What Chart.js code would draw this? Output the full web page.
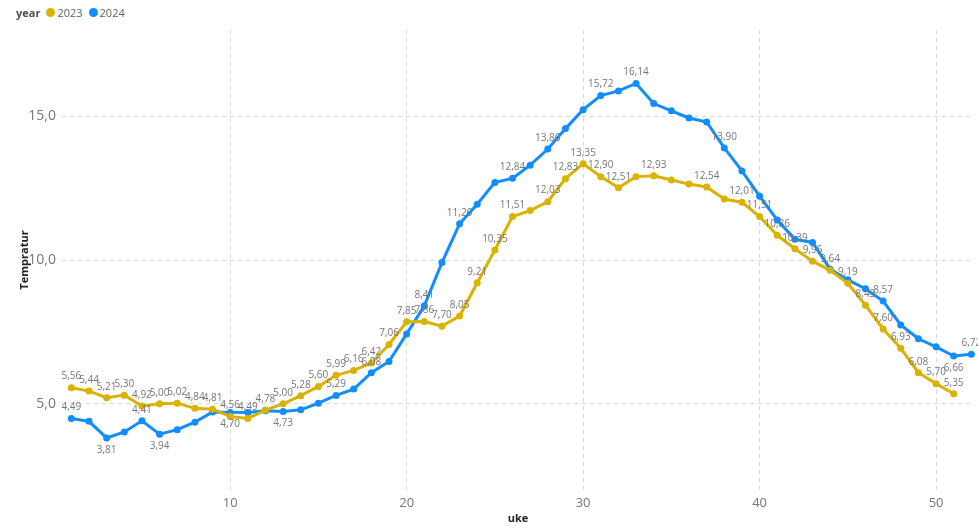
<!DOCTYPE html>
<html>
<head>
<meta charset="utf-8">
<script src="https://cdn.jsdelivr.net/npm/chart.js@4"></script>
<style>
  html, body { margin: 0; padding: 0; background: #fff; }
  #wrap { position: relative; width: 978px; height: 528px; }
  #legend {
    position: absolute; left: 16px; top: 5px;
    font-family: "Open Sans", sans-serif; font-size: 11px; color: #605e5c;
    display: flex; align-items: center;
  }
  #legend b { color: #505050; margin-right: 6px; }
  #legend .dot { width: 9px; height: 9px; border-radius: 50%; display: inline-block; margin-right: 2px; }
  #legend .item { display: flex; align-items: center; margin-right: 6px; }
</style>
</head>
<body>
<div id="wrap">
  <canvas id="temp-chart" width="978" height="528"></canvas>
  <div id="legend">
    <b>year</b>
    <span class="item"><span class="dot" style="background:#d9b300"></span>2023</span>
    <span class="item"><span class="dot" style="background:#118dff"></span>2024</span>
  </div>
</div>
<script>
// uke 1-52
const weeks = [];
for (let w = 1; w <= 52; w++) weeks.push(w);

const temp2023 = [
  5.56, 5.44, 5.21, 5.30, 4.92, 5.00, 5.02, 4.84, 4.81, 4.56,
  4.49, 4.78, 5.00, 5.28, 5.60, 5.99, 6.16, 6.42, 7.06, 7.85,
  7.86, 7.70, 8.05, 9.21, 10.35, 11.51, 11.72, 12.03, 12.83, 13.35,
  12.90, 12.51, 12.90, 12.93, 12.78, 12.64, 12.54, 12.12, 12.01, 11.51,
  10.86, 10.39, 9.96, 9.64, 9.19, 8.43, 7.60, 6.93, 6.08, 5.70, 5.35,
];

const temp2024 = [
  4.49, 4.39, 3.81, 4.02, 4.41, 3.94, 4.10, 4.36, 4.71, 4.70,
  4.70, 4.76, 4.73, 4.79, 5.02, 5.29, 5.51, 6.08, 6.47, 7.43,
  8.41, 9.91, 11.26, 11.94, 12.70, 12.84, 13.30, 13.86, 14.57, 15.23,
  15.72, 15.88, 16.14, 15.44, 15.19, 14.94, 14.80, 13.90, 13.10, 12.22,
  11.39, 10.72, 10.61, 9.68, 9.31, 9.00, 8.57, 7.74, 7.26, 6.98, 6.66, 6.72,
];

const xTicks = [10, 20, 30, 40, 50];
const yTicks = [5, 10, 15];

// which weeks get a data label (power bi hides the crowded ones)
const labelsAbove2023 = weeks.filter((w) => w <= 51 && ![27, 33, 35, 36, 38].includes(w));
const labelsAbove2024 = [1, 5, 16, 18, 21, 23, 26, 28, 31, 33, 38, 47, 52];
const labelsBelow2024 = [3, 6, 10, 13, 51];

const fmt = (v) => v.toFixed(2).replace(".", ",");

const labelPlugin = {
  id: "pointLabels",
  afterDatasetsDraw(chart) {
    const ctx = chart.ctx;
    ctx.save();
    ctx.font = "10px 'Open Sans', sans-serif";
    ctx.fillStyle = "#777";
    ctx.textAlign = "center";
    chart.data.datasets.forEach((ds, i) => {
      const meta = chart.getDatasetMeta(i);
      meta.data.forEach((pt, j) => {
        const week = ds.data[j].x;
        if (ds.above.includes(week)) {
          ctx.textBaseline = "bottom";
          ctx.fillText(fmt(ds.data[j].y), pt.x, pt.y - 6);
        } else if (ds.below.includes(week)) {
          ctx.textBaseline = "top";
          ctx.fillText(fmt(ds.data[j].y), pt.x, pt.y + 7);
        }
      });
    });
    ctx.restore();
  },
};

const toPoints = (arr) => arr.map((v, i) => ({ x: weeks[i], y: v }));

const tempData = {
  datasets: [
    {
      label: "2023",
      data: toPoints(temp2023),
      borderColor: "#d9b300",
      backgroundColor: "#d9b300",
      above: labelsAbove2023,
      below: [],
    },
    {
      label: "2024",
      data: toPoints(temp2024),
      borderColor: "#118dff",
      backgroundColor: "#118dff",
      above: labelsAbove2024,
      below: labelsBelow2024,
    },
  ],
};

const tempOptions = {
  responsive: false,
  animation: false,
  layout: { padding: { top: 30, right: 0, left: 0, bottom: 0 } },
  elements: {
    line: { borderWidth: 3, tension: 0 },
    point: { radius: 3.5, borderWidth: 0 },
  },
  datasets: { line: { clip: false } },
  plugins: {
    legend: { display: false },
    tooltip: { enabled: false },
  },
  scales: {
    x: {
      type: "linear",
      min: 0.47,
      max: 52.15,
      afterBuildTicks: (scale) => {
        scale.ticks = xTicks.map((v) => ({ value: v }));
      },
      afterFit: (scale) => {
        scale.height = 38;
      },
      grid: { color: "#d9d9d9", drawTicks: false },
      border: { display: false, dash: [4, 4] },
      ticks: {
        padding: 5,
        color: "#777",
        font: { family: "'Open Sans', sans-serif", size: 13 },
      },
      title: {
        display: true,
        text: "uke",
        color: "#252423",
        padding: { top: 0, bottom: 3 },
        font: { family: "'Open Sans', sans-serif", size: 11, weight: "bold" },
      },
    },
    y: {
      min: 2,
      max: 18,
      afterBuildTicks: (scale) => {
        scale.ticks = yTicks.map((v) => ({ value: v }));
      },
      afterFit: (scale) => {
        scale.width = 62;
      },
      grid: { color: "#d9d9d9", drawTicks: false },
      border: { display: false, dash: [4, 4] },
      ticks: {
        padding: 6,
        color: "#777",
        font: { family: "'Open Sans', sans-serif", size: 14 },
        callback: (v) => v.toFixed(1).replace(".", ","),
      },
      title: {
        display: true,
        text: "Tempratur",
        color: "#252423",
        padding: { top: 18, bottom: 0 },
        font: { family: "'Open Sans', sans-serif", size: 11, weight: "bold" },
      },
    },
  },
};

const tempChart = new Chart(document.getElementById("temp-chart"), {
  type: "line",
  data: tempData,
  options: tempOptions,
  plugins: [labelPlugin],
});
</script>
</body>
</html>
